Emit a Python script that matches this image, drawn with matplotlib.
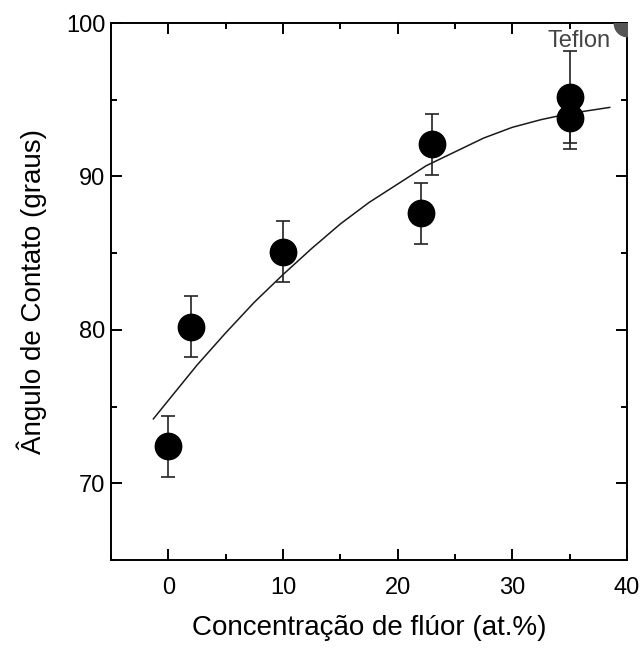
import matplotlib
matplotlib.use("Agg")
import matplotlib.pyplot as plt
from matplotlib.ticker import MultipleLocator

plt.rcParams['font.family'] = ['Liberation Sans', 'DejaVu Sans']

# data points
conc = [0, 2, 10, 22, 23, 35, 35]
angle = [72.4, 80.2, 85.1, 87.6, 92.1, 95.2, 93.8]
err = [2.0, 2.0, 2.0, 2.0, 2.0, 3.0, 2.0]

# fitted curve
fit_x = [-1.3, 0, 2.5, 5, 7.5, 10, 12.5, 15, 17.5, 20, 22.5, 25, 27.5, 30, 32.5, 35, 38.5]
fit_y = [74.2, 75.4, 77.7, 79.8, 81.8, 83.6, 85.3, 86.9, 88.3, 89.5, 90.7, 91.6, 92.5, 93.2, 93.7, 94.1, 94.5]

# Teflon reference
teflon_x = [40]
teflon_y = [100]

fig = plt.figure(figsize=(6.43, 6.48), dpi=100)
ax = fig.add_axes([0.1726, 0.1358, 0.975 - 0.1726, 0.9645 - 0.1358])

ax.plot(fit_x, fit_y, color='#1a1a1a', lw=1.1, zorder=2)
ax.errorbar(conc, angle, yerr=err, fmt='o', color='black', ecolor='#222222',
            markersize=19, elinewidth=1.2, capsize=5, capthick=1.2, zorder=3)
ax.plot(teflon_x, teflon_y, 'o', color='#555555', markersize=19, zorder=3, clip_on=True)
ax.text(38.6, 98.85, 'Teflon', ha='right', va='center', fontsize=17, color='#444444')

ax.set_xlim(-5, 40)
ax.set_ylim(65, 100)
ax.xaxis.set_major_locator(MultipleLocator(10))
ax.xaxis.set_minor_locator(MultipleLocator(5))
ax.yaxis.set_major_locator(MultipleLocator(10))
ax.yaxis.set_minor_locator(MultipleLocator(5))
ax.tick_params(which='both', direction='in', top=True, right=True, labelsize=17, width=1.4)
ax.tick_params(which='major', length=8)
ax.tick_params(which='minor', length=4)
ax.tick_params(axis='x', pad=12)
ax.tick_params(axis='y', pad=4)
for s in ax.spines.values():
    s.set_linewidth(1.4)

ax.set_xlabel('Concentração de flúor (at.%)', fontsize=20, labelpad=12)
ax.set_ylabel('Ângulo de Contato (graus)', fontsize=20, labelpad=14)

fig.savefig('out.png', dpi=100)
